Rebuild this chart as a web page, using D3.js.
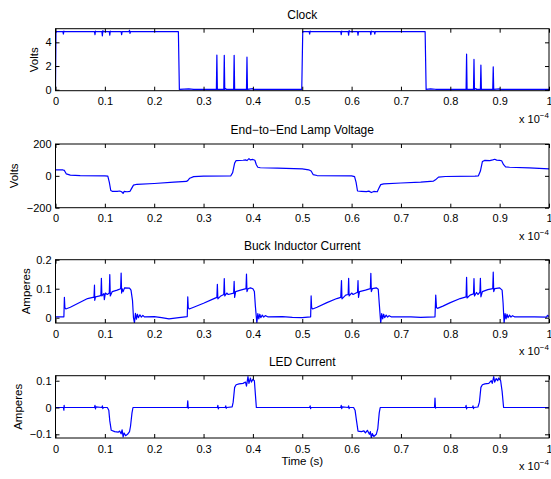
<!DOCTYPE html>
<html>
<head>
<meta charset="utf-8">
<script src="https://cdn.jsdelivr.net/npm/d3@7"></script>
<style>
  body { margin: 0; background: #fff; }
  svg { display: block; font-family: "Liberation Sans", Arial, Helvetica, sans-serif; }
  .tick text { fill: #000; font-size: 11px; }
  .tick line { stroke: #000; }
</style>
</head>
<body>
<svg id="chart" width="551" height="479"></svg>
<script>
// time axis is in units of 1e-4 s
const xTicks = [0, 0.1, 0.2, 0.3, 0.4, 0.5, 0.6, 0.7, 0.8, 0.9, 1]

const clockData = [
  [0, 0], [0.001, 4.9], [0.015, 4.9], [0.016, 4.7], [0.017, 4.95], [0.018, 4.9],
  [0.079, 4.9], [0.080, 4.65], [0.081, 4.95], [0.082, 4.9],
  [0.094, 4.9], [0.095, 4.55], [0.096, 5.0], [0.097, 4.9],
  [0.109, 4.9], [0.110, 4.6], [0.111, 4.95], [0.112, 4.9],
  [0.133, 4.9], [0.134, 4.65], [0.135, 4.9],
  [0.149, 4.9], [0.150, 5.02], [0.151, 4.75], [0.152, 4.9],
  [0.249, 4.9], [0.251, 0.03], [0.27, 0.07], [0.28, 0.03],
  [0.326, 0.03], [0.327, 2.93], [0.328, 0.03],
  [0.341, 0.03], [0.342, 2.9], [0.343, 0.03], [0.345, 0.1], [0.346, 0.03],
  [0.361, 0.03], [0.362, 2.9], [0.363, 0.03],
  [0.387, 0.03], [0.388, 2.75], [0.389, 0.03], [0.400, 0.1], [0.401, 0.03],
  [0.499, 0.03], [0.501, 4.9], [0.514, 4.9], [0.515, 4.7], [0.516, 4.95], [0.517, 4.9],
  [0.578, 4.9], [0.579, 4.65], [0.580, 4.95], [0.581, 4.9],
  [0.593, 4.9], [0.594, 4.6], [0.595, 5.0], [0.596, 4.9],
  [0.612, 4.9], [0.613, 4.6], [0.614, 4.9],
  [0.638, 4.9], [0.639, 4.65], [0.640, 4.95], [0.641, 4.9],
  [0.646, 4.9], [0.647, 4.7], [0.648, 4.9],
  [0.749, 4.9], [0.751, 0.03], [0.76, 0.08], [0.77, 0.04],
  [0.832, 0.03], [0.833, 3.0], [0.834, 0.03],
  [0.847, 0.03], [0.848, 2.56], [0.849, 0.03], [0.852, 0.1], [0.853, 0.03],
  [0.861, 0.03], [0.862, 2.08], [0.863, 0.03],
  [0.886, 0.03], [0.887, 1.94], [0.888, 0.03], [0.9, 0.07], [0.901, 0.03],
  [1.0, 0.03]
]

const lampData = [
  [0, 37], [0.015, 37], [0.018, 34], [0.022, 12], [0.03, 5], [0.05, 1], [0.1, 0],
  [0.106, -2], [0.109, -40], [0.112, -92], [0.115, -97], [0.125, -98], [0.13, -95],
  [0.134, -100], [0.137, -110], [0.139, -98], [0.145, -100], [0.151, -97],
  [0.154, -80], [0.158, -58], [0.165, -53], [0.2, -48], [0.24, -40], [0.265, -35],
  [0.268, -30], [0.272, -15], [0.28, -5], [0.3, -2], [0.355, -1], [0.359, 20],
  [0.363, 80], [0.366, 96], [0.38, 98], [0.385, 100], [0.388, 96], [0.392, 108],
  [0.395, 100], [0.4, 103], [0.404, 98], [0.407, 70], [0.41, 54], [0.415, 51],
  [0.45, 49], [0.5, 44], [0.513, 38], [0.518, 30], [0.522, 8], [0.53, 2], [0.6, 0],
  [0.606, -5], [0.609, -40], [0.612, -95], [0.62, -97], [0.63, -99], [0.635, -96],
  [0.64, -105], [0.645, -98], [0.652, -100], [0.655, -80], [0.659, -55], [0.665, -50],
  [0.7, -45], [0.74, -40], [0.766, -33], [0.77, -25], [0.776, -8], [0.79, -4],
  [0.85, -2], [0.857, 0], [0.861, 30], [0.865, 90], [0.87, 97], [0.88, 96],
  [0.886, 100], [0.89, 104], [0.894, 99], [0.9, 97], [0.904, 95], [0.908, 70],
  [0.912, 56], [0.92, 54], [0.96, 50], [1.0, 44]
]

const buckData = [
  [0, 0.003], [0.017, 0.003], [0.018, 0.07], [0.019, 0.035], [0.021, 0.03],
  [0.03, 0.036], [0.05, 0.053], [0.065, 0.066], [0.078, 0.071], [0.079, 0.112],
  [0.0795, 0.06], [0.081, 0.072], [0.09, 0.075], [0.092, 0.078], [0.093, 0.136],
  [0.094, 0.075], [0.098, 0.083], [0.099, 0.062], [0.101, 0.085], [0.105, 0.08],
  [0.109, 0.085], [0.110, 0.149], [0.111, 0.075], [0.115, 0.09], [0.125, 0.095],
  [0.132, 0.1], [0.133, 0.154], [0.134, 0.085], [0.135, 0.1], [0.137, 0.09],
  [0.14, 0.103], [0.15, 0.102], [0.153, 0.095], [0.156, 0.06], [0.158, 0.0],
  [0.16, -0.018], [0.162, 0.015], [0.164, -0.005], [0.166, 0.012], [0.168, 0.0],
  [0.171, 0.01], [0.174, 0.002], [0.177, 0.008], [0.18, 0.003], [0.2, 0.004],
  [0.215, 0.0], [0.23, -0.004], [0.25, 0.0], [0.267, 0.004],
  [0.268, 0.072], [0.269, 0.035], [0.271, 0.03], [0.28, 0.036], [0.3, 0.05],
  [0.32, 0.065], [0.327, 0.07], [0.328, 0.115], [0.329, 0.065], [0.335, 0.075],
  [0.341, 0.08], [0.342, 0.135], [0.343, 0.075], [0.347, 0.085], [0.35, 0.08],
  [0.361, 0.085], [0.362, 0.125], [0.363, 0.07], [0.365, 0.09], [0.375, 0.095],
  [0.386, 0.1], [0.387, 0.15], [0.388, 0.09], [0.39, 0.1], [0.395, 0.103],
  [0.4, 0.1], [0.403, 0.09], [0.405, 0.04], [0.408, -0.018], [0.41, 0.014],
  [0.412, -0.004], [0.414, 0.012], [0.416, 0.0], [0.419, 0.009], [0.422, 0.002],
  [0.425, 0.007], [0.43, 0.003], [0.46, 0.004], [0.48, 0.001], [0.5, 0.0],
  [0.517, 0.003], [0.518, 0.075], [0.519, 0.035], [0.521, 0.03], [0.53, 0.036],
  [0.55, 0.052], [0.57, 0.066], [0.578, 0.07], [0.5795, 0.128], [0.5805, 0.065],
  [0.588, 0.078], [0.593, 0.08], [0.594, 0.136], [0.595, 0.075], [0.6, 0.085],
  [0.603, 0.08], [0.612, 0.088], [0.613, 0.128], [0.614, 0.07], [0.616, 0.09],
  [0.628, 0.095], [0.638, 0.1], [0.639, 0.153], [0.640, 0.09], [0.642, 0.1],
  [0.65, 0.103], [0.654, 0.098], [0.656, 0.05], [0.659, -0.018], [0.661, 0.014],
  [0.663, -0.004], [0.665, 0.012], [0.667, 0.0], [0.67, 0.009], [0.673, 0.002],
  [0.676, 0.007], [0.68, 0.003], [0.72, 0.003], [0.74, 0.001], [0.769, 0.003],
  [0.7705, 0.078], [0.772, 0.035], [0.774, 0.032], [0.785, 0.04], [0.8, 0.052],
  [0.82, 0.066], [0.832, 0.072], [0.833, 0.139], [0.834, 0.068], [0.84, 0.078],
  [0.847, 0.082], [0.848, 0.135], [0.849, 0.075], [0.853, 0.087], [0.856, 0.08],
  [0.86, 0.088], [0.861, 0.136], [0.862, 0.072], [0.865, 0.09], [0.876, 0.097],
  [0.886, 0.1], [0.887, 0.157], [0.888, 0.09], [0.89, 0.1], [0.9, 0.103],
  [0.905, 0.095], [0.907, 0.05], [0.909, -0.018], [0.911, 0.014], [0.913, -0.004],
  [0.915, 0.012], [0.917, 0.0], [0.92, 0.009], [0.923, 0.002], [0.926, 0.007],
  [0.93, 0.003], [0.97, 0.003], [0.995, 0.002], [0.997, 0.008], [1.0, 0.004]
]

const ledData = [
  [0, 0.0], [0.016, 0.0], [0.017, -0.01], [0.0175, 0.008], [0.018, 0.0],
  [0.079, 0.0], [0.08, 0.008], [0.081, -0.005], [0.082, 0.002], [0.094, 0.0],
  [0.095, 0.006], [0.096, -0.004], [0.097, 0.0], [0.105, 0.0], [0.108, -0.01],
  [0.11, -0.05], [0.113, -0.085], [0.12, -0.09], [0.127, -0.092], [0.13, -0.088],
  [0.133, -0.098], [0.135, -0.083], [0.137, -0.11], [0.139, -0.095], [0.142, -0.105],
  [0.146, -0.1], [0.15, -0.09], [0.152, -0.07], [0.155, -0.02], [0.157, 0.0],
  [0.267, 0.0], [0.268, 0.025], [0.269, -0.003], [0.27, 0.0], [0.328, 0.0],
  [0.329, 0.008], [0.33, -0.005], [0.331, 0.0], [0.344, 0.0], [0.345, 0.006],
  [0.346, -0.003], [0.347, 0.0], [0.358, 0.002], [0.36, 0.02], [0.363, 0.075],
  [0.366, 0.085], [0.372, 0.088], [0.38, 0.09], [0.385, 0.095], [0.387, 0.08],
  [0.39, 0.115], [0.392, 0.09], [0.395, 0.11], [0.397, 0.095], [0.4, 0.105],
  [0.403, 0.1], [0.405, 0.05], [0.407, 0.0], [0.515, 0.0], [0.516, 0.006],
  [0.517, -0.004], [0.518, 0.0], [0.578, 0.0], [0.579, 0.008], [0.58, -0.004],
  [0.581, 0.002], [0.593, 0.0], [0.594, 0.006], [0.595, -0.004], [0.596, 0.0],
  [0.604, 0.0], [0.607, -0.01], [0.61, -0.05], [0.613, -0.088], [0.62, -0.09],
  [0.625, -0.087], [0.628, -0.095], [0.632, -0.085], [0.636, -0.1], [0.638, -0.09],
  [0.64, -0.113], [0.642, -0.097], [0.645, -0.108], [0.65, -0.1], [0.653, -0.08],
  [0.656, -0.02], [0.658, 0.0], [0.768, 0.0], [0.769, 0.035], [0.77, -0.002],
  [0.771, 0.0], [0.831, 0.0], [0.832, 0.008], [0.833, -0.005], [0.834, 0.0],
  [0.845, 0.0], [0.846, 0.006], [0.847, -0.004], [0.848, 0.0], [0.856, 0.002],
  [0.859, 0.02], [0.862, 0.075], [0.865, 0.085], [0.87, 0.088], [0.878, 0.09],
  [0.883, 0.1], [0.885, 0.09], [0.888, 0.115], [0.89, 0.095], [0.893, 0.108],
  [0.896, 0.1], [0.898, 0.11], [0.902, 0.1], [0.905, 0.06], [0.908, 0.0], [1.0, 0.0]
]

const panels = [
  { title: 'Clock', ylabel: 'Volts', data: clockData, yDomain: [-0.08, 5.15], yTicks: [0, 2, 4], top: 28.7, bottom: 90.7, labelX: 38 },
  { title: 'End\u2212to\u2212End Lamp Voltage', ylabel: 'Volts', data: lampData, yDomain: [-200, 200], yTicks: [-200, 0, 200], top: 144, bottom: 207.7, labelX: 18 },
  { title: 'Buck Inductor Current', ylabel: 'Amperes', data: buckData, yDomain: [-0.0183, 0.2], yTicks: [0, 0.1, 0.2], top: 259.7, bottom: 323, labelX: 30 },
  { title: 'LED Current', ylabel: 'Amperes', data: ledData, yDomain: [-0.1138, 0.1187], yTicks: [-0.1, 0, 0.1], top: 375.7, bottom: 438, labelX: 22 }
]

const svg = d3.select('#chart')
const left = 55.5
const right = 549
const tickLen = 4
const fmt = d => String(+d.toFixed(2)).replace('-', '\u2212')

const x = d3.scaleLinear().domain([0, 1]).range([left, right])

panels.forEach((p, i) => {
  const y = d3.scaleLinear().domain(p.yDomain).range([p.bottom, p.top])
  const g = svg.append('g').attr('class', 'panel-' + i)

  g.append('clipPath')
    .attr('id', 'clip-' + i)
    .append('rect')
    .attr('x', left)
    .attr('y', p.top)
    .attr('width', right - left)
    .attr('height', p.bottom - p.top)

  // trace
  g.append('path')
    .datum(p.data)
    .attr('clip-path', `url(#clip-${i})`)
    .attr('fill', 'none')
    .attr('stroke', '#0000ff')
    .attr('stroke-width', 1.2)
    .attr('stroke-linejoin', 'round')
    .attr('d', d3.line().x(d => x(d[0])).y(d => y(d[1])))

  // axes, ticks pointing inward like matlab
  g.append('g')
    .attr('transform', `translate(0,${p.bottom})`)
    .call(d3.axisBottom(x).tickValues(xTicks).tickFormat(fmt).tickSizeInner(-tickLen).tickSizeOuter(0).tickPadding(7))
    .call(a => a.select('.domain').remove())
  g.append('g')
    .attr('transform', `translate(0,${p.top})`)
    .call(d3.axisTop(x).tickValues(xTicks).tickFormat('').tickSizeInner(-tickLen).tickSizeOuter(0))
    .call(a => a.select('.domain').remove())
  g.append('g')
    .attr('transform', `translate(${left},0)`)
    .call(d3.axisLeft(y).tickValues(p.yTicks).tickFormat(fmt).tickSizeInner(-tickLen).tickSizeOuter(0).tickPadding(4))
    .call(a => a.select('.domain').remove())
  g.append('g')
    .attr('transform', `translate(${right},0)`)
    .call(d3.axisRight(y).tickValues(p.yTicks).tickFormat('').tickSizeInner(-tickLen).tickSizeOuter(0))
    .call(a => a.select('.domain').remove())

  g.selectAll('.tick text').attr('font-family', null).attr('font-size', null)

  g.append('rect')
    .attr('x', left)
    .attr('y', p.top)
    .attr('width', right - left)
    .attr('height', p.bottom - p.top)
    .attr('fill', 'none')
    .attr('stroke', '#000')
    .attr('stroke-width', 1)

  g.append('text')
    .attr('x', (left + right) / 2)
    .attr('y', p.top - 10)
    .attr('text-anchor', 'middle')
    .attr('font-size', 12)
    .text(p.title)

  g.append('text')
    .attr('transform', `translate(${p.labelX},${(p.top + p.bottom) / 2}) rotate(-90)`)
    .attr('text-anchor', 'middle')
    .attr('font-size', 11.5)
    .text(p.ylabel)

  const exp = g.append('text')
    .attr('x', 519)
    .attr('y', p.bottom + 32)
    .attr('font-size', 11)
  exp.append('tspan').text('x 10')
  exp.append('tspan').attr('dy', -5).attr('font-size', 8).text('\u22124')
})

svg.append('text')
  .attr('x', (left + right) / 2)
  .attr('y', 465)
  .attr('text-anchor', 'middle')
  .attr('font-size', 11.5)
  .text('Time (s)')
</script>
</body>
</html>
